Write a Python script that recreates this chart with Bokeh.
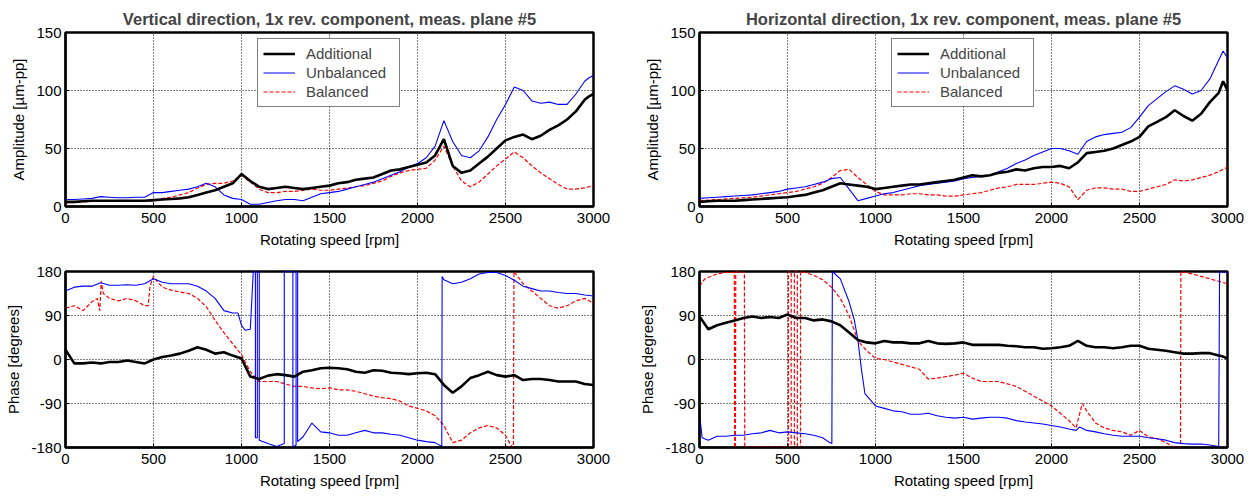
from bokeh.plotting import figure
from bokeh.layouts import column, row
from bokeh.models import Range1d, FixedTicker, Legend, LegendItem
from bokeh.embed import file_html
from bokeh.resources import INLINE

# ---------------- data ----------------
rpm = [0, 50, 100, 150, 200, 250, 300, 350, 400, 450,
       500, 550, 600, 650, 700, 750, 800, 850, 900, 950,
       1000, 1050, 1100, 1150, 1200, 1250, 1300, 1350, 1400, 1450,
       1500, 1550, 1600, 1650, 1700, 1750, 1800, 1850, 1900, 1950,
       2000, 2050, 2100, 2150, 2200, 2250, 2300, 2350, 2400, 2450,
       2500, 2550, 2600, 2650, 2700, 2750, 2800, 2850, 2900, 2950,
       2975, 3000]

# Vertical amplitude [um-pp]
amp_v_additional = [4, 4, 4.5, 5, 5, 5, 5, 5, 5, 5,
                    5.5, 6, 6.5, 7, 8, 10, 12, 14, 17, 20,
                    28, 22, 17, 15, 16, 17, 16, 15, 16, 17,
                    18, 20, 21, 23, 24, 25, 28, 31, 32, 34,
                    36, 38, 44, 58, 35, 29, 31, 37, 43, 50,
                    57, 60, 62, 58, 61, 66, 70, 75, 82, 92,
                    95, 97]
amp_v_unbalanced = [6, 6, 6.5, 7, 8.5, 8, 7.5, 7.5, 8, 8,
                    12, 12, 13, 14, 15, 17, 20, 17, 10, 7,
                    6, 2, 2, 3.5, 5, 6, 6, 5, 8, 11,
                    12, 13, 15, 17, 19, 21, 24, 27, 30, 34,
                    37, 42, 52, 74, 56, 44, 42, 48, 60, 75,
                    88, 103, 100, 91, 89, 90, 88, 88, 97, 108,
                    111, 113]
amp_v_balanced = [3, 3.5, 4, 4.5, 5, 5, 5, 5, 5, 5,
                  4.5, 7, 8, 10, 12, 16, 19, 20, 20, 22,
                  27, 21, 15, 12, 12, 13, 13, 14, 15, 14,
                  14, 15, 16, 17, 18, 20, 22, 26, 29, 31,
                  32, 33, 40, 52, 35, 22, 17, 21, 28, 35,
                  41, 47, 42, 35, 29, 24, 19, 15, 15, 16,
                  17, 18]

# Horizontal amplitude [um-pp]
amp_h_additional = [4, 4.5, 5, 5, 5, 5.5, 6, 6.5, 7, 7.5,
                    8, 9, 10, 12, 14, 17, 20, 19, 18, 17,
                    15, 16, 17, 18, 19, 19, 20, 21, 22, 23,
                    25, 27, 26, 27, 29, 30, 32, 31, 33, 34,
                    34, 35, 33, 38, 46, 47, 48, 50, 53, 56,
                    60, 69, 73, 77, 83, 78, 74, 80, 90, 98,
                    108, 100]
amp_h_unbalanced = [7, 7.5, 8, 8.5, 9, 9.5, 10, 11, 12, 13,
                    15, 16, 17, 19, 21, 24, 25, 15, 5, 7,
                    9, 11, 12, 14, 16, 18, 19, 20, 21, 22,
                    24, 25, 26, 27, 30, 33, 37, 40, 44, 47,
                    50, 50, 48, 45, 56, 60, 62, 63, 64, 68,
                    77, 87, 93, 99, 104, 101, 97, 100, 110, 126,
                    134, 128]
amp_h_balanced = [5, 5.5, 6, 6.5, 7, 7.5, 8, 9, 10, 11,
                  12, 13, 15, 17, 20, 25, 31, 32, 25, 19,
                  13, 10, 10, 10, 11, 11, 10, 10, 9, 9,
                  10, 11, 12, 14, 16, 17, 19, 19, 19, 20,
                  21, 20, 17, 6, 14, 16, 16, 15, 15, 13,
                  13, 15, 17, 19, 23, 22, 23, 25, 27, 30,
                  32, 34]

# Vertical phase [degrees]
ph_v_additional = [20, -8, -8, -6, -8, -5, -5, -2, -5, -8,
                   0, 5, 8, 12, 18, 25, 20, 12, 15, 8,
                   2, -35, -40, -33, -30, -32, -35, -25, -22, -18,
                   -17, -18, -20, -25, -27, -22, -23, -27, -28, -30,
                   -28, -27, -30, -52, -68, -55, -38, -32, -25, -32,
                   -35, -32, -42, -40, -40, -42, -45, -45, -45, -50,
                   -51, -52]
ph_v_unbalanced_x = [0, 50, 100, 150, 200, 250, 300, 350, 400, 450,
                     500, 550, 600, 650, 700, 750, 800, 850, 900, 950,
                     980, 1000, 1020, 1050, 1067, 1079, 1079, 1090, 1090, 1101,
                     1101, 1150, 1200, 1243, 1243, 1292, 1292, 1310, 1310, 1319,
                     1319, 1350, 1400, 1450, 1500, 1550, 1600, 1650, 1700, 1750,
                     1800, 1850, 1900, 1950, 2000, 2050, 2100, 2138, 2140, 2150,
                     2200, 2250, 2300, 2350, 2400, 2450, 2500, 2550, 2600, 2650,
                     2700, 2750, 2800, 2850, 2900, 2950, 3000]
ph_v_unbalanced = [140, 148, 150, 150, 157, 152, 152, 153, 152, 155,
                   165, 158, 155, 155, 155, 150, 140, 125, 100, 95,
                   95, 70, 60, 62, 180, 180, -160, -160, 180, 180,
                   -165, -172, -178, -172, 180, 180, -180, -175, 180, 180,
                   -168, -158, -130, -148, -150, -155, -155, -150, -145, -150,
                   -150, -153, -155, -160, -165, -168, -170, -178, 170, 163,
                   155, 158, 165, 175, 178, 178, 172, 162, 150, 145,
                   140, 140, 137, 135, 135, 132, 130]
ph_v_balanced_x = [0, 50, 100, 150, 180, 195, 203, 215, 250, 300,
                   350, 400, 450, 470, 480, 500, 520, 550, 600, 650,
                   700, 750, 800, 850, 900, 950, 1000, 1050, 1100, 1150,
                   1200, 1250, 1300, 1350, 1400, 1450, 1500, 1550, 1600, 1650,
                   1700, 1750, 1800, 1850, 1900, 1950, 2000, 2050, 2100, 2150,
                   2200, 2250, 2300, 2350, 2400, 2450, 2500, 2530, 2545, 2548,
                   2600, 2650, 2700, 2750, 2800, 2850, 2900, 2950, 3000]
ph_v_balanced = [105, 110, 100, 118, 125, 100, 160, 135, 125, 120,
                 125, 120, 110, 110, 150, 170, 160, 148, 142, 138,
                 135, 125, 108, 80, 55, 32, 10, -25, -45, -45,
                 -45, -50, -55, -55, -58, -60, -58, -62, -62, -65,
                 -70, -75, -78, -80, -85, -95, -100, -105, -115, -135,
                 -170, -165, -150, -140, -135, -140, -155, -175, -180, 180,
                 155, 140, 125, 110, 105, 110, 120, 125, 115]

# Horizontal phase [degrees]
ph_h_additional = [88, 62, 70, 75, 80, 85, 88, 85, 87, 85,
                   92, 85, 85, 80, 82, 78, 70, 55, 40, 35,
                   33, 38, 35, 35, 33, 33, 38, 33, 32, 33,
                   35, 30, 30, 30, 30, 28, 27, 25, 25, 22,
                   23, 25, 28, 38, 28, 25, 25, 23, 25, 28,
                   28, 22, 20, 18, 15, 12, 12, 13, 13, 8,
                   6, 2]
ph_h_unbalanced_x = [0, 15, 50, 100, 150, 200, 250, 300, 350, 400,
                     450, 500, 550, 600, 650, 700, 740, 752, 755, 800,
                     850, 880, 900, 920, 940, 1000, 1050, 1100, 1150, 1200,
                     1250, 1300, 1350, 1400, 1450, 1500, 1550, 1600, 1650, 1700,
                     1750, 1800, 1850, 1900, 1950, 2000, 2050, 2100, 2140, 2160,
                     2200, 2250, 2300, 2350, 2400, 2450, 2500, 2550, 2600, 2650,
                     2700, 2750, 2800, 2850, 2900, 2950, 2955, 3000]
ph_h_unbalanced = [-110, -160, -165, -157, -157, -155, -155, -152, -150, -145,
                   -150, -148, -150, -152, -155, -160, -170, -172, 180, 165,
                   118, 80, 40, -20, -70, -95, -100, -105, -107, -112,
                   -112, -110, -115, -118, -120, -118, -122, -120, -118, -118,
                   -120, -125, -128, -130, -132, -135, -138, -142, -145, -138,
                   -145, -148, -152, -155, -157, -157, -157, -160, -162, -165,
                   -170, -172, -173, -173, -175, -178, 180, 178]
ph_h_balanced_x = [0, 30, 100, 150, 198, 200, 204, 206, 255, 257,
                   300, 400, 505, 505, 521, 521, 539, 539, 556, 556,
                   574, 574, 600, 650, 700, 750, 800, 850, 900, 950,
                   1000, 1050, 1100, 1150, 1200, 1250, 1300, 1350, 1400, 1450,
                   1500, 1550, 1600, 1650, 1700, 1750, 1800, 1850, 1900, 1950,
                   2000, 2050, 2100, 2140, 2150, 2175, 2200, 2250, 2300, 2350,
                   2400, 2450, 2500, 2550, 2600, 2650, 2700, 2733, 2735, 2800,
                   2850, 2900, 2950, 3000]
ph_h_balanced = [150, 165, 175, 178, 178, -180, -180, 180, 178, -180,
                 -178, -178, -178, 180, 180, -180, -180, 180, 180, -180,
                 -180, 180, 178, 172, 163, 148, 125, 90, 38, 18,
                 2, 0, -5, -10, -15, -20, -40, -38, -35, -32,
                 -28, -38, -45, -45, -45, -50, -55, -65, -75, -85,
                 -95, -110, -125, -140, -125, -90, -105, -130, -140, -145,
                 -148, -155, -145, -158, -162, -170, -180, -178, 180, 175,
                 170, 165, 160, 155]

rpm_ticks = [0, 500, 1000, 1500, 2000, 2500, 3000]
amp_ticks = [0, 50, 100, 150]
phase_ticks = [-180, -90, 0, 90, 180]
phase_tick_labels = ["-180", "-90", "0", "90", "180"]
series_names = ["Additional", "Unbalanced", "Balanced"]
titles = ["Vertical direction, 1x rev. component, meas. plane #5",
          "Horizontal direction, 1x rev. component, meas. plane #5"]

FONT = "Liberation Sans"


def make_fig(width, height, mbl, mbr, mbt, mbb, yrange, yticks, ylabel, title=None, ylabels=None):
    p = figure(width=width, height=height, output_backend="svg", toolbar_location=None,
               x_range=Range1d(0, 3000), y_range=Range1d(*yrange),
               min_border_left=mbl, min_border_right=mbr,
               min_border_top=mbt, min_border_bottom=mbb,
               background_fill_color="white", border_fill_color="white")
    p.xaxis.ticker = FixedTicker(ticks=rpm_ticks)
    p.yaxis.ticker = FixedTicker(ticks=yticks)
    if ylabels:
        p.yaxis.major_label_overrides = {t: l for t, l in zip(yticks, ylabels)}
    p.xaxis.axis_label = "Rotating speed [rpm]"
    p.yaxis.axis_label = ylabel
    for ax in p.xaxis + p.yaxis:
        ax.axis_label_text_font = FONT
        ax.axis_label_text_font_size = "15px"
        ax.axis_label_text_font_style = "normal"
        ax.major_label_text_font = FONT
        ax.major_label_text_font_size = "15px"
        ax.major_label_text_color = "black"
        ax.axis_label_text_color = "black"
        ax.major_tick_in = 4
        ax.major_tick_out = 0
        ax.minor_tick_in = 0
        ax.minor_tick_out = 0
        ax.axis_line_color = "black"
        ax.axis_line_width = 2
        ax.major_tick_line_color = "black"
    p.xaxis.major_label_standoff = 6
    p.xaxis.axis_label_standoff = 5
    p.yaxis.major_label_standoff = 4
    p.yaxis.axis_label_standoff = 6
    for g in (p.xgrid, p.ygrid):
        g.grid_line_color = "black"
        g.grid_line_dash = "1 2"
        g.grid_line_width = 1
        g.grid_line_alpha = 1.0
    p.outline_line_color = "black"
    p.outline_line_width = 2.5
    p.outline_line_alpha = 1.0
    if title:
        p.title.text = title
        p.title.align = "center"
        p.title.text_font = FONT
        p.title.text_font_size = "16.5px"
        p.title.text_font_style = "bold"
        p.title.standoff = 9
    return p


def add_curves(p, xs_list, ys_list, legend=False):
    r1 = p.line(xs_list[2], ys_list[2], line_color="#ff0000", line_width=1.2, line_dash="4 2")
    r2 = p.line(xs_list[1], ys_list[1], line_color="#0000ff", line_width=1.1)
    r0 = p.line(xs_list[0], ys_list[0], line_color="black", line_width=2.6)
    if legend:
        lg = Legend(items=[LegendItem(label=series_names[0], renderers=[r0]),
                           LegendItem(label=series_names[1], renderers=[r2]),
                           LegendItem(label=series_names[2], renderers=[r1])],
                    location=(192, 99))
        lg.label_text_font = FONT
        lg.label_text_font_size = "15px"
        lg.border_line_color = "black"
        lg.border_line_width = 1
        lg.background_fill_alpha = 1.0
        lg.padding = 5
        lg.margin = 0
        lg.spacing = 0
        lg.glyph_width = 32
        lg.glyph_height = 19
        lg.label_height = 19
        lg.label_width = 88
        lg.label_standoff = 11
        p.add_layout(lg, "center")


amp_label = "Amplitude [\u00b5m-pp]"
phase_label = "Phase [degrees]"

f1 = make_fig(634, 250, 65, 41, 32, 44, (0, 150), amp_ticks, amp_label, titles[0])
add_curves(f1, [rpm, rpm, rpm], [amp_v_additional, amp_v_unbalanced, amp_v_balanced], legend=True)

f2 = make_fig(621, 250, 65, 28, 32, 44, (0, 150), amp_ticks, amp_label, titles[1])
add_curves(f2, [rpm, rpm, rpm], [amp_h_additional, amp_h_unbalanced, amp_h_balanced], legend=True)

f3 = make_fig(634, 247, 65, 41, 21, 50, (-180, 180), phase_ticks, phase_label, None, phase_tick_labels)
add_curves(f3, [rpm, ph_v_unbalanced_x, ph_v_balanced_x], [ph_v_additional, ph_v_unbalanced, ph_v_balanced])

f4 = make_fig(621, 247, 65, 28, 21, 50, (-180, 180), phase_ticks, phase_label, None, phase_tick_labels)
add_curves(f4, [rpm, ph_h_unbalanced_x, ph_h_balanced_x], [ph_h_additional, ph_h_unbalanced, ph_h_balanced])

layout = column(row(f1, f2, spacing=0), row(f3, f4, spacing=0), spacing=0)

open("out.html", "w").write(file_html(layout, INLINE))
